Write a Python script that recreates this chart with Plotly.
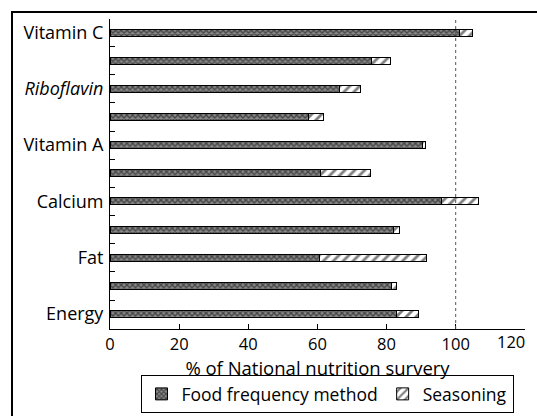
import plotly.graph_objects as go

# Bars from bottom (Energy) to top (Vitamin C); only alternate bars are labelled
labels = ["Energy", "", "Fat", "", "Calcium", "", "Vitamin A", "", "<i>Riboflavin</i>", "", "Vitamin C"]
food_freq = [83, 81.5, 60.5, 82, 96, 61, 90.3, 57.3, 66.3, 75.5, 101]
seasoning = [6.3, 1.4, 31, 1.6, 10.7, 14.4, 1.0, 4.4, 6.2, 5.5, 4]
xticks = [0, 20, 40, 60, 80, 100, 120]
xticklabels = ["0", "20", "40", "60", "80", "100", ""]
last_tick_label = "120"
reference_value = 100

pos = list(range(len(labels)))
FONT = "Open Sans, Lato, sans-serif"
W, H = 537, 416


def fx(px):
    return px / W


def fy(py):
    return (H - py) / H


# main plot box in pixels: x 110..525, y 19..329 ; outer frame at x=13, y=13
xdom = [fx(110), fx(525)]
ydom = [fy(329), fy(19)]

fig = go.Figure()
fig.add_trace(go.Bar(
    y=pos, x=food_freq, orientation="h", name="Food frequency method", width=0.25,
    marker=dict(color="white", line=dict(color="black", width=1),
                pattern=dict(shape="x", size=4, solidity=0.55, fgcolor="black", bgcolor="#888888")),
))
fig.add_trace(go.Bar(
    y=pos, x=seasoning, orientation="h", name="Seasoning", width=0.25,
    marker=dict(color="white", line=dict(color="black", width=1),
                pattern=dict(shape="/", size=7, solidity=0.4, fgcolor="black", bgcolor="white")),
))
# invisible traces carrying the boundary-tick axis and the outer frame axes
fig.add_trace(go.Scatter(x=[None], y=[None], yaxis="y2", showlegend=False, hoverinfo="skip"))
fig.add_trace(go.Scatter(x=[None], y=[None], xaxis="x3", yaxis="y3", showlegend=False, hoverinfo="skip"))

ymin, ymax = -0.53, len(labels) - 1 + 0.48
fig.update_layout(
    barmode="stack",
    width=W, height=H,
    margin=dict(l=0, r=0, t=0, b=0, autoexpand=False),
    paper_bgcolor="white", plot_bgcolor="rgba(0,0,0,0)",
    font=dict(family=FONT, size=16, color="black"),
    showlegend=True,
    legend=dict(orientation="h", x=fx(327), xanchor="center", y=fy(394), yanchor="middle",
                bordercolor="black", borderwidth=1, font=dict(size=17.5, family=FONT),
                itemwidth=30, traceorder="normal"),
    xaxis=dict(domain=xdom, anchor="y", range=[0, 120.05], tickvals=xticks, ticktext=xticklabels,
               ticks="inside", ticklen=5, tickcolor="black", showline=True, linecolor="black",
               linewidth=1, showgrid=False, zeroline=False, tickfont=dict(size=16.5), automargin=False,
               title=dict(text="% of National nutrition survery", font=dict(size=18.5), standoff=2)),
    yaxis=dict(domain=ydom, anchor="x", range=[ymin, ymax], tickvals=pos, ticktext=labels, ticks="",
               showline=True, linecolor="black", linewidth=1, showgrid=False, zeroline=False,
               automargin=False, tickfont=dict(size=18), ticklabelstandoff=2),
    yaxis2=dict(domain=ydom, range=[ymin, ymax], overlaying="y", side="left", anchor="x", automargin=False,
                tickvals=[p + 0.5 for p in pos[:-1]] + [ymax], ticks="inside", ticklen=5,
                tickcolor="black", showticklabels=False, showgrid=False, zeroline=False, showline=False),
    # outer frame: top and left edges of the figure box
    xaxis3=dict(domain=[fx(13), 1], anchor="y3", side="top", range=[0, 1], showline=True,
                linecolor="black", linewidth=2, showticklabels=False, ticks="", showgrid=False,
                zeroline=False, automargin=False, fixedrange=True),
    yaxis3=dict(domain=[0, fy(13)], anchor="x3", side="left", range=[0, 1], showline=True,
                linecolor="black", linewidth=1.5, showticklabels=False, ticks="", showgrid=False,
                zeroline=False, automargin=False, fixedrange=True),
    shapes=[
        dict(type="line", xref="x", yref="y domain", x0=reference_value, x1=reference_value, y0=0, y1=1,
             line=dict(color="#555555", width=1, dash="dot")),
    ],
    annotations=[
        dict(text=last_tick_label, x=120, xref="x", y=0, yref="y domain", xanchor="right", yanchor="middle",
             xshift=2, yshift=-12, showarrow=False, font=dict(size=16.5, family=FONT)),
    ],
)
fig.write_html("out.html", config={"displayModeBar": False},
               post_script="document.body.style.margin='0';document.body.style.overflow='hidden';")
